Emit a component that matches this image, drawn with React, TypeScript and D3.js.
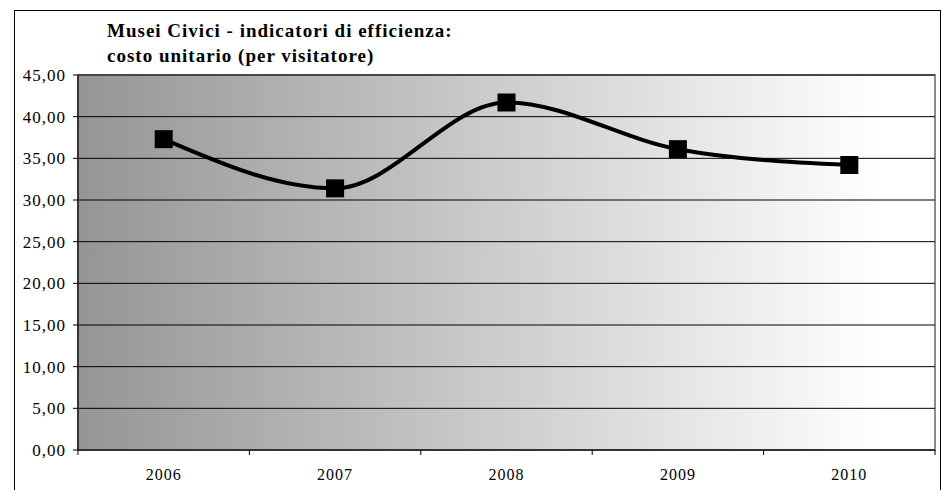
import { scaleBand, scaleLinear, line, curveMonotoneX, format } from "d3";

const years = ["2006", "2007", "2008", "2009", "2010"];
const costs = [37.3, 31.4, 41.7, 36.1, 34.2];
const yTicks = [0, 5, 10, 15, 20, 25, 30, 35, 40, 45];
const titleLines = [
    "Musei Civici - indicatori di efficienza:",
    "costo unitario (per visitatore)",
];

const fmt = (v: number) => format(".2f")(v).replace(".", ",");

export default function App() {
    const W = 943;
    const H = 490;
    const plot = { left: 78, top: 75, right: 935, bottom: 450 };

    const x = scaleBand().domain(years).range([plot.left, plot.right]);
    const y = scaleLinear().domain([0, 45]).range([plot.bottom, plot.top]);
    const cx = (i: number) => (x(years[i]) ?? 0) + x.bandwidth() / 2;

    const path = line<number>()
        .x((_, i) => cx(i))
        .y((d) => y(d))
        .curve(curveMonotoneX)(costs);

    const serif = "Liberation Serif, Times New Roman, serif";
    const m = 18;

    return (
        <svg
            width={W}
            height={H}
            style={{ position: "absolute", left: 0, top: 0, fontFamily: serif }}
        >
            <defs>
                <linearGradient id="bg" x1="0" x2="1" y1="0" y2="0">
                    <stop offset="0" stopColor="#959595" />
                    <stop offset="0.935" stopColor="#ffffff" />
                    <stop offset="1" stopColor="#ffffff" />
                </linearGradient>
            </defs>
            <rect x={0} y={0} width={W} height={H} fill="#fff" />
            <rect x={14.5} y={10.5} width={926} height={500} fill="none" stroke="#000" strokeWidth={1} />

            {titleLines.map((t, i) => (
                <text
                    key={t}
                    x={107}
                    y={37 + i * 24.5}
                    fontSize={19}
                    fontWeight="bold"
                    letterSpacing={1}
                    fill="#000"
                    style={{ fontFamily: serif }}
                >
                    {t}
                </text>
            ))}

            <rect
                x={plot.left}
                y={plot.top}
                width={plot.right - plot.left}
                height={plot.bottom - plot.top}
                fill="url(#bg)"
                stroke="#8c8c8c"
                strokeWidth={2}
            />

            {yTicks.slice(1).map((t) => (
                <line key={t} x1={plot.left} x2={plot.right} y1={y(t)} y2={y(t)} stroke="#000" strokeWidth={1} />
            ))}

            <line x1={plot.left} x2={plot.left} y1={plot.top} y2={plot.bottom} stroke="#333" strokeWidth={2} />
            <line x1={plot.left} x2={plot.right} y1={plot.bottom} y2={plot.bottom} stroke="#333" strokeWidth={2} />

            {yTicks.map((t) => (
                <g key={t}>
                    <line x1={plot.left - 5} x2={plot.left} y1={y(t)} y2={y(t)} stroke="#000" strokeWidth={1} />
                    <text
                        x={66}
                        y={y(t) + 6}
                        textAnchor="end"
                        fontSize={17}
                        letterSpacing={1}
                        fill="#000"
                        style={{ fontFamily: serif }}
                    >
                        {fmt(t)}
                    </text>
                </g>
            ))}

            {years.map((yr, i) => (
                <g key={yr}>
                    <line x1={x(yr)} x2={x(yr)} y1={plot.bottom} y2={plot.bottom + 5} stroke="#000" />
                    <text
                        x={cx(i)}
                        y={480}
                        textAnchor="middle"
                        fontSize={16}
                        letterSpacing={1}
                        fill="#000"
                        style={{ fontFamily: serif }}
                    >
                        {yr}
                    </text>
                </g>
            ))}
            <line x1={plot.right} x2={plot.right} y1={plot.bottom} y2={plot.bottom + 5} stroke="#000" />

            <path d={path ?? ""} fill="none" stroke="#000" strokeWidth={4} strokeLinejoin="round" />

            {costs.map((c, i) => (
                <rect key={years[i]} x={cx(i) - m / 2} y={y(c) - m / 2} width={m} height={m} fill="#000" />
            ))}
        </svg>
    );
}
